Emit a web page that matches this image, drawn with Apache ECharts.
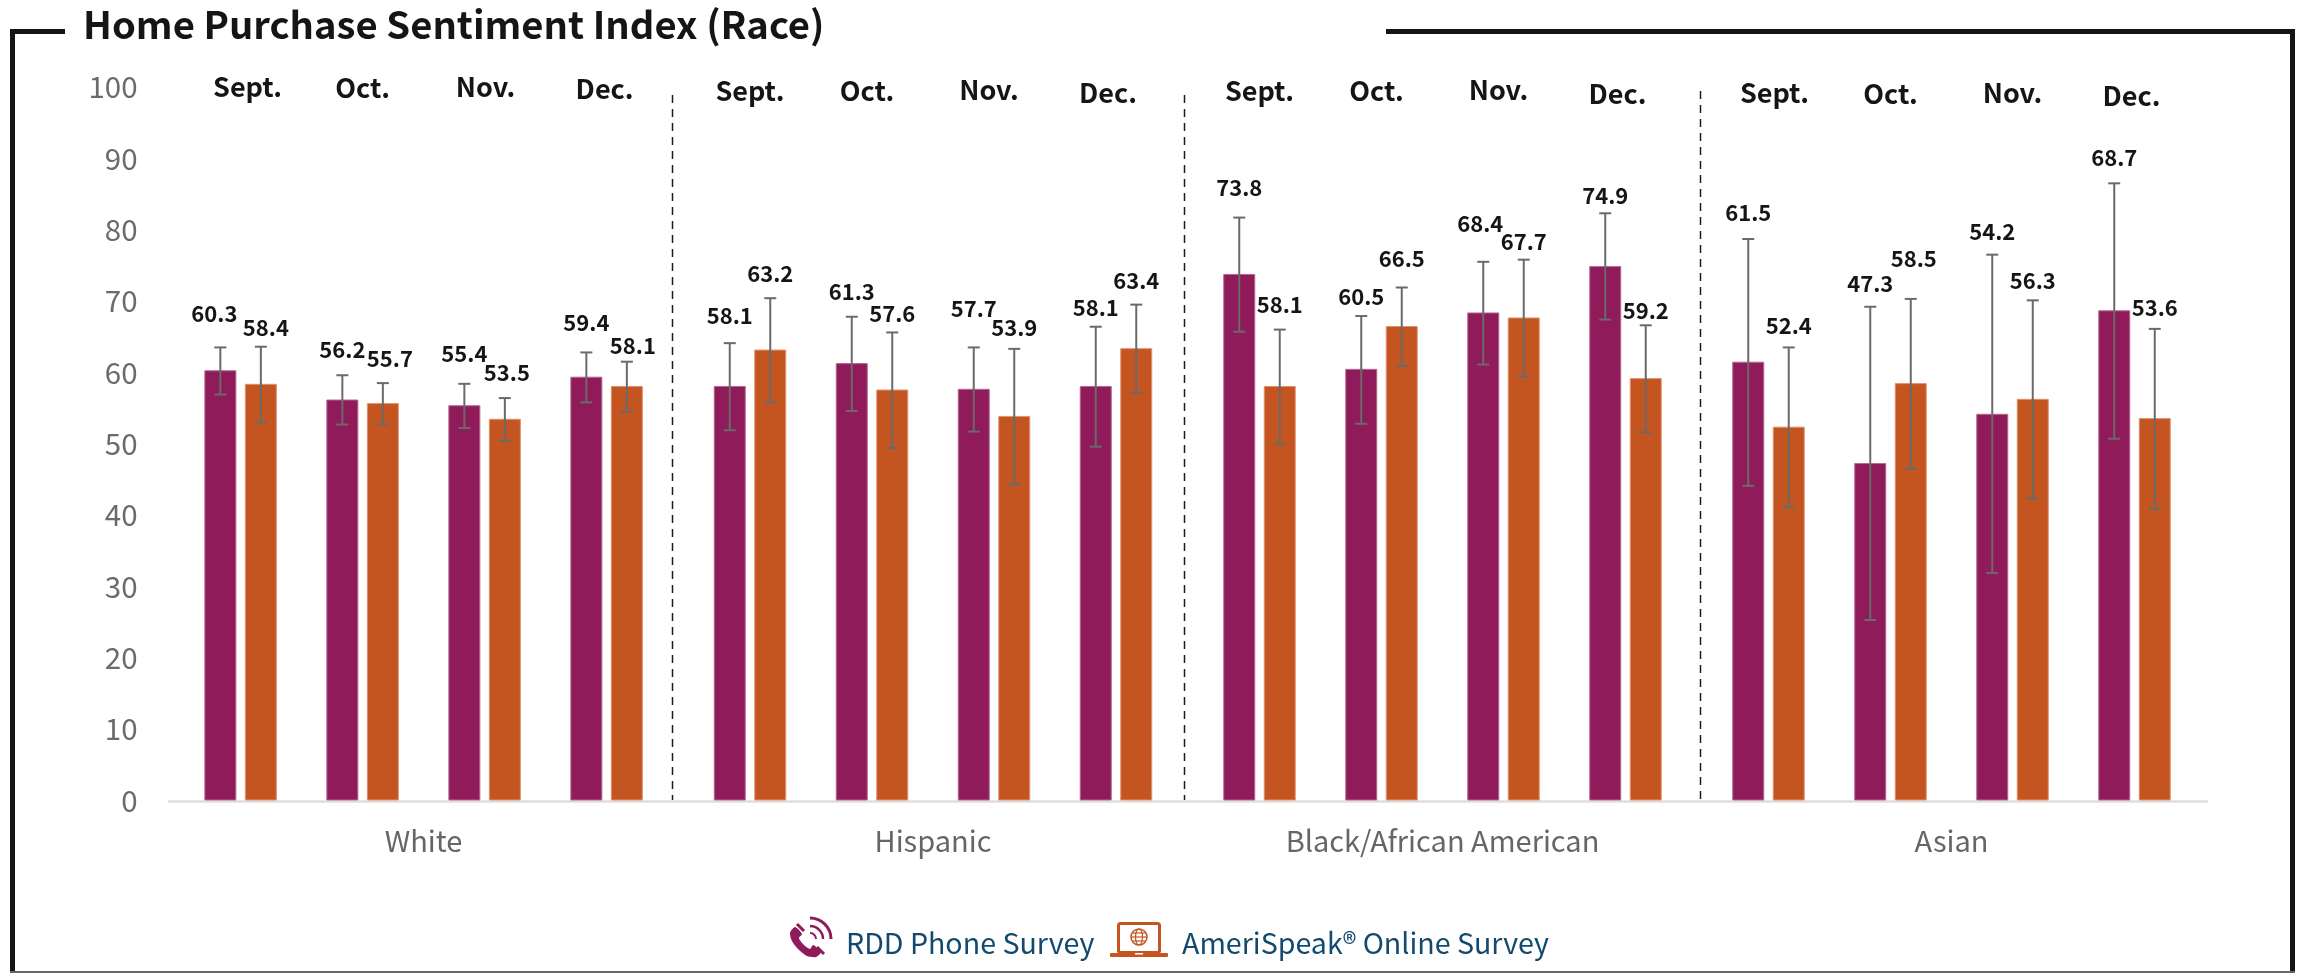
<!DOCTYPE html>
<html><head><meta charset="utf-8">
<style>html,body{margin:0;padding:0;background:#fff}#c{width:2307px;height:973px}</style>
<script src="https://cdn.jsdelivr.net/npm/echarts@6/dist/echarts.min.js"></script></head>
<body><div id="c"></div>
<script>
// ---------- data ----------
const months = ['Sept.', 'Oct.', 'Nov.', 'Dec.'];
const groups = ['White', 'Hispanic', 'Black/African American', 'Asian'];
const yTicks = [0, 10, 20, 30, 40, 50, 60, 70, 80, 90, 100];
const seriesNames = ['RDD Phone Survey', 'AmeriSpeak\u00AE Online Survey'];

const phoneValues = [
  [60.3, 56.2, 55.4, 59.4],
  [58.1, 61.3, 57.7, 58.1],
  [73.8, 60.5, 68.4, 74.9],
  [61.5, 47.3, 54.2, 68.7]
];
const onlineValues = [
  [58.4, 55.7, 53.5, 58.1],
  [63.2, 57.6, 53.9, 63.4],
  [58.1, 66.5, 67.7, 59.2],
  [52.4, 58.5, 56.3, 53.6]
];
const phoneHigh = [
  [63.5, 59.6, 58.4, 62.8],
  [64.1, 67.8, 63.5, 66.4],
  [81.7, 67.9, 75.5, 82.3],
  [78.7, 69.2, 76.5, 86.5]
];
const phoneLow = [
  [56.9, 52.7, 52.2, 55.8],
  [51.9, 54.6, 51.7, 49.6],
  [65.7, 52.8, 61.1, 67.4],
  [44.1, 25.3, 31.9, 50.7]
];
const onlineHigh = [
  [63.6, 58.5, 56.4, 61.5],
  [70.4, 65.6, 63.3, 69.5],
  [66.0, 71.9, 75.8, 66.6],
  [63.5, 70.3, 70.1, 66.1]
];
const onlineLow = [
  [53.0, 52.7, 50.4, 54.5],
  [55.8, 49.4, 44.3, 57.1],
  [50.0, 60.9, 59.4, 51.6],
  [41.1, 46.5, 42.3, 40.9]
];

// ---------- layout (label nudges, in pixels, from the top of the error bar) ----------
const phoneLift = [
  [-34, -26, -30, -30],
  [-28, -25, -39, -19],
  [-30, -19, -38, -18],
  [-26, -23, -23, -26]
];
const onlineLift = [
  [-19, -24, -25, -16],
  [-25, -19, -21, -24],
  [-25, -29, -18, -15],
  [-22, -40, -20, -21]
];
const phoneShift = [
  [-6, 0, 0, 0],
  [0, 0, 0, 0],
  [0, 0, -3, 0],
  [0, 0, 0, 0]
];
const onlineShift = [
  [5, 7, 2, 6],
  [0, 0, 0, 0],
  [0, 0, 0, 0],
  [0, 3, 0, 0]
];
const monthShift = [
  [7, 0, 1, -2],
  [0, -5, -5, -8],
  [0, -5, -5, -8],
  [6, 0, 0, -3]
];
const monthDrop = [
  [0, 1, 0, 2],
  [4, 4, 3, 6],
  [4, 4, 3, 7],
  [6, 7, 6, 9]
];
const gridLeft = [179.6, 689, 1198.5, 1707.5];
const gridWidth = [488, 488, 488, 488];

const FONT = '"Noto Sans CJK SC","Noto Sans",sans-serif';
const PURPLE = '#8F1B5A', ORANGE = '#C45521', GRAY = '#6A6A6A', INK = '#151515';
const TOP = 87, BOTTOM = 172.5, BAR = 32, GAP = 8.5;
const off = (BAR + GAP) / 2;

const grids = [], xAxes = [], yAxes = [], series = [];
groups.forEach((g, i) => {
  grids.push({ left: gridLeft[i], width: gridWidth[i], top: TOP, bottom: BOTTOM, containLabel: false });
  xAxes.push({
    type: 'category', gridIndex: i, data: months,
    axisLine: { show: false }, axisTick: { show: false }, axisLabel: { show: false },
    name: g, nameLocation: 'middle', nameGap: 26,
    nameTextStyle: { fontFamily: FONT, fontSize: 29, color: '#666' }
  });
  yAxes.push({
    type: 'value', gridIndex: i, min: 0, max: 100, interval: 10, show: i === 0,
    axisLine: { show: false }, axisTick: { show: false }, splitLine: { show: false },
    axisLabel: { fontFamily: FONT, fontSize: 29.5, color: '#6b6b6b', margin: 42 }
  });
  const barCommon = { type: 'bar', xAxisIndex: i, yAxisIndex: i, barWidth: BAR, barGap: (GAP / BAR * 100) + '%' };
  series.push(Object.assign({ name: seriesNames[0], data: phoneValues[i],
    itemStyle: { color: PURPLE, borderColor: '#B5688F', borderWidth: 1 } }, barCommon));
  series.push(Object.assign({ name: seriesNames[1], data: onlineValues[i],
    itemStyle: { color: ORANGE, borderColor: '#DF9470', borderWidth: 1 } }, barCommon));

  const errSeries = (vals, hi, lo, lift, shift, sign, name) => ({
    type: 'custom', xAxisIndex: i, yAxisIndex: i, clip: false, z: 5, name,
    encode: { x: 0, y: [1, 2] },
    data: months.map((m, k) => [k, lo[i][k], hi[i][k], vals[i][k], lift[i][k], shift[i][k]]),
    renderItem(params, api) {
      const k = api.value(0);
      const x = api.coord([k, 0])[0] + sign * off;
      const yLo = api.coord([k, api.value(1)])[1];
      const yHi = api.coord([k, api.value(2)])[1];
      const st = { stroke: GRAY, lineWidth: 2, fill: null };
      return {
        type: 'group',
        children: [
          { type: 'line', shape: { x1: x, y1: yLo, x2: x, y2: yHi }, style: st },
          { type: 'line', shape: { x1: x - 6, y1: yLo, x2: x + 6, y2: yLo }, style: st },
          { type: 'line', shape: { x1: x - 6, y1: yHi, x2: x + 6, y2: yHi }, style: st },
          { type: 'text', style: {
              text: api.value(3).toFixed(1), x: x + api.value(5), y: yHi + api.value(4),
              align: 'center', verticalAlign: 'middle', fill: INK,
              font: 'bold 22px ' + FONT } }
        ]
      };
    }
  });
  series.push(errSeries(phoneValues, phoneHigh, phoneLow, phoneLift, phoneShift, -1, 'err-phone'));
  series.push(errSeries(onlineValues, onlineHigh, onlineLow, onlineLift, onlineShift, 1, 'err-online'));

  series.push({
    type: 'custom', xAxisIndex: i, yAxisIndex: i, clip: false, z: 5, name: 'months',
    encode: { x: 0, y: 1 },
    data: months.map((m, k) => [k, 100, monthShift[i][k], monthDrop[i][k]]),
    renderItem(params, api) {
      const k = api.value(0);
      const p = api.coord([k, api.value(1)]);
      return { type: 'text', style: {
        text: months[k], x: p[0] + api.value(2), y: p[1] + api.value(3),
        align: 'center', verticalAlign: 'middle', fill: INK, font: 'bold 27px ' + FONT } };
    }
  });
});

// baseline spanning all groups
grids.push({ left: 169, right: 100, top: TOP, bottom: 171.5 });
xAxes.push({ type: 'value', gridIndex: 4, min: 0, max: 1, axisLine: { show: true, onZero: false, lineStyle: { color: '#DEDEDE', width: 2.5 } },
  axisTick: { show: false }, axisLabel: { show: false }, splitLine: { show: false } });
yAxes.push({ type: 'value', gridIndex: 4, min: 0, max: 100, show: false });

const dash = x => ({ type: 'line', shape: { x1: x[0], y1: x[1], x2: x[0], y2: 800 },
  style: { stroke: '#1c1c1c', lineWidth: 1.5, lineDash: [8, 6] }, z: 1 });
const frame = s => ({ type: 'rect', shape: s, style: { fill: '#151515' }, z: 2 });
const stroke = (c, w) => ({ stroke: c, lineWidth: w, fill: null });

const graphic = [
  frame({ x: 10, y: 29, width: 55, height: 5 }),
  frame({ x: 10, y: 29, width: 5, height: 944 }),
  frame({ x: 1386, y: 29, width: 909, height: 5 }),
  frame({ x: 2290, y: 29, width: 5, height: 944 }),
  { type: 'rect', shape: { x: 10, y: 971, width: 2285, height: 2 }, style: { fill: '#666' }, z: 2 },
  dash([672.5, 95]), dash([1184.5, 95]), dash([1700.5, 91]),
  // phone icon
  { type: 'group', x: 790, y: 917, z: 3, children: [
    { type: 'polygon', shape: { smooth: 0.25, points: [[5,10],[12,17],[9,21],[13,27],[20,32],[23,28],[31,35],[26,40],[17,39],[8,32],[2,24],[0,16]] },
      style: { fill: PURPLE } },
    { type: 'line', shape: { x1: 7, y1: 7, x2: 14, y2: 14 }, style: stroke(PURPLE, 3) },
    { type: 'line', shape: { x1: 27, y1: 30, x2: 34, y2: 37 }, style: stroke(PURPLE, 3) },
    { type: 'arc', shape: { cx: 20, cy: 22, r: 21, startAngle: -Math.PI / 2, endAngle: 0 }, style: stroke(PURPLE, 3) },
    { type: 'arc', shape: { cx: 20, cy: 22, r: 13, startAngle: -Math.PI / 2, endAngle: 0 }, style: stroke(PURPLE, 2.5) },
    { type: 'arc', shape: { cx: 20, cy: 22, r: 6, startAngle: -Math.PI / 2, endAngle: 0 }, style: stroke(PURPLE, 2) }
  ] },
  // laptop icon
  { type: 'group', x: 1110, y: 922, z: 3, children: [
    { type: 'rect', shape: { x: 8.5, y: 1.5, width: 41, height: 29, r: 2 }, style: { stroke: ORANGE, lineWidth: 3, fill: '#fff' } },
    { type: 'rect', shape: { x: 0, y: 31, width: 58, height: 4, r: 1 }, style: { fill: ORANGE } },
    { type: 'rect', shape: { x: 25, y: 31, width: 8, height: 1.5 }, style: { fill: '#fff' } },
    { type: 'circle', shape: { cx: 29, cy: 15, r: 8 }, style: stroke(ORANGE, 1.5) },
    { type: 'ellipse', shape: { cx: 29, cy: 15, rx: 3.5, ry: 8 }, style: stroke(ORANGE, 1.2) },
    { type: 'line', shape: { x1: 21, y1: 15, x2: 37, y2: 15 }, style: stroke(ORANGE, 1.2) },
    { type: 'line', shape: { x1: 22.5, y1: 11, x2: 35.5, y2: 11 }, style: stroke(ORANGE, 1.2) },
    { type: 'line', shape: { x1: 22.5, y1: 19, x2: 35.5, y2: 19 }, style: stroke(ORANGE, 1.2) }
  ] },
  { type: 'text', x: 846, y: 943, z: 3, style: { text: seriesNames[0], fill: '#12496F', font: '28.6px ' + FONT, verticalAlign: 'middle' } },
  { type: 'text', x: 1182, y: 943, z: 3, style: { text: seriesNames[1], fill: '#12496F', font: '28.6px ' + FONT, verticalAlign: 'middle' } }
];

const chart = echarts.init(document.getElementById('c'), null, { renderer: 'canvas', width: 2307, height: 973 });
chart.setOption({
  animation: false,
  backgroundColor: '#fff',
  title: { text: 'Home Purchase Sentiment Index (Race)', left: 78, top: 0,
    textStyle: { fontFamily: FONT, fontSize: 38.2, fontWeight: 'bold', color: INK } },
  grid: grids, xAxis: xAxes, yAxis: yAxes, series, graphic
});
</script></body></html>
